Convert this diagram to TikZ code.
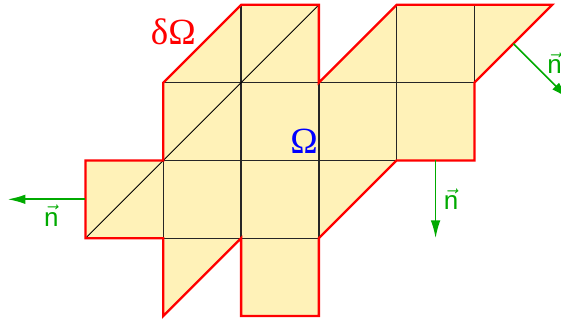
\documentclass[tikz,border=0pt]{standalone}
\usepackage{fontspec}
\setmainfont{Liberation Serif}
\setsansfont{Liberation Sans}
\usetikzlibrary{arrows.meta,positioning,calc}

\definecolor{domainfill}{RGB}{255,242,184}
\definecolor{normalgreen}{RGB}{0,170,0}

\newcommand{\domainpath}{(0,1) -- (0,2) -- (1,2) -- (1,3) -- (2,4) -- (3,4) -- (3,3) -- (4,4) -- (6,4) -- (5,3) -- (5,2) -- (4,2) -- (3,1) -- (3,0) -- (2,0) -- (2,1) -- (1,0) -- (1,1) -- cycle}

\begin{document}
\begin{tikzpicture}[
    boundary/.style={red, line width=0.85pt},
    gridline/.style={black!85, line width=0.45pt},
    normalvec/.style={-{Latex[length=6.5pt,width=3.5pt]}, normalgreen, line width=0.6pt},
    veclabel/.style={normalgreen, font=\sffamily\fontsize{9.5}{11}\selectfont},
    greek/.style={font=\fontsize{13.5}{15}\selectfont}
]
    \useasboundingbox (-1.099,-0.051) rectangle (6.112,4.062);

    % Domain
    \fill[domainfill] \domainpath;

    % Grid lines inside the domain
    \foreach \y/\a/\b in {1/1/3, 2/1/4, 3/1/5} {
        \draw[gridline] (\a,\y) -- (\b,\y);
    }
    \foreach \x/\a/\b in {1/1/3, 2/1/4, 3/1/3, 4/2/4, 5/3/4} {
        \draw[gridline] (\x,\a) -- (\x,\b);
    }
    \draw[black, line width=0.3pt] (0,1) -- (3,4);

    % Boundary
    \draw[boundary] \domainpath;

    % Outward normals
    \coordinate (westfoot) at (0,1.5);
    \coordinate (westtip) at (-1,1.5);
    \coordinate (southfoot) at (4.5,2);
    \coordinate (southtip) at (4.5,1);
    \coordinate (eastfoot) at (5.5,3.5);
    \coordinate (easttip) at ($(eastfoot)+(0.707,-0.707)$);

    \draw[normalvec] (westfoot) -- (westtip);
    \draw[normalvec] (southfoot) -- (southtip);
    \draw[normalvec] (eastfoot) -- (easttip);

    \node[veclabel] (westn) at (-0.44,1.29) {$\vec{\textsf{n}}$};
    \node[veclabel] (southn) at (4.70,1.50) {$\vec{\textsf{n}}$};
    \node[veclabel] (eastn) at (6.03,3.25) {$\vec{\textsf{n}}$};

    % Labels
    \node[greek, red] (dOmega) at (1.13,3.65) {δΩ};
    \node[greek, blue] (Omega) at (2.81,2.25) {Ω};
\end{tikzpicture}
\end{document}
